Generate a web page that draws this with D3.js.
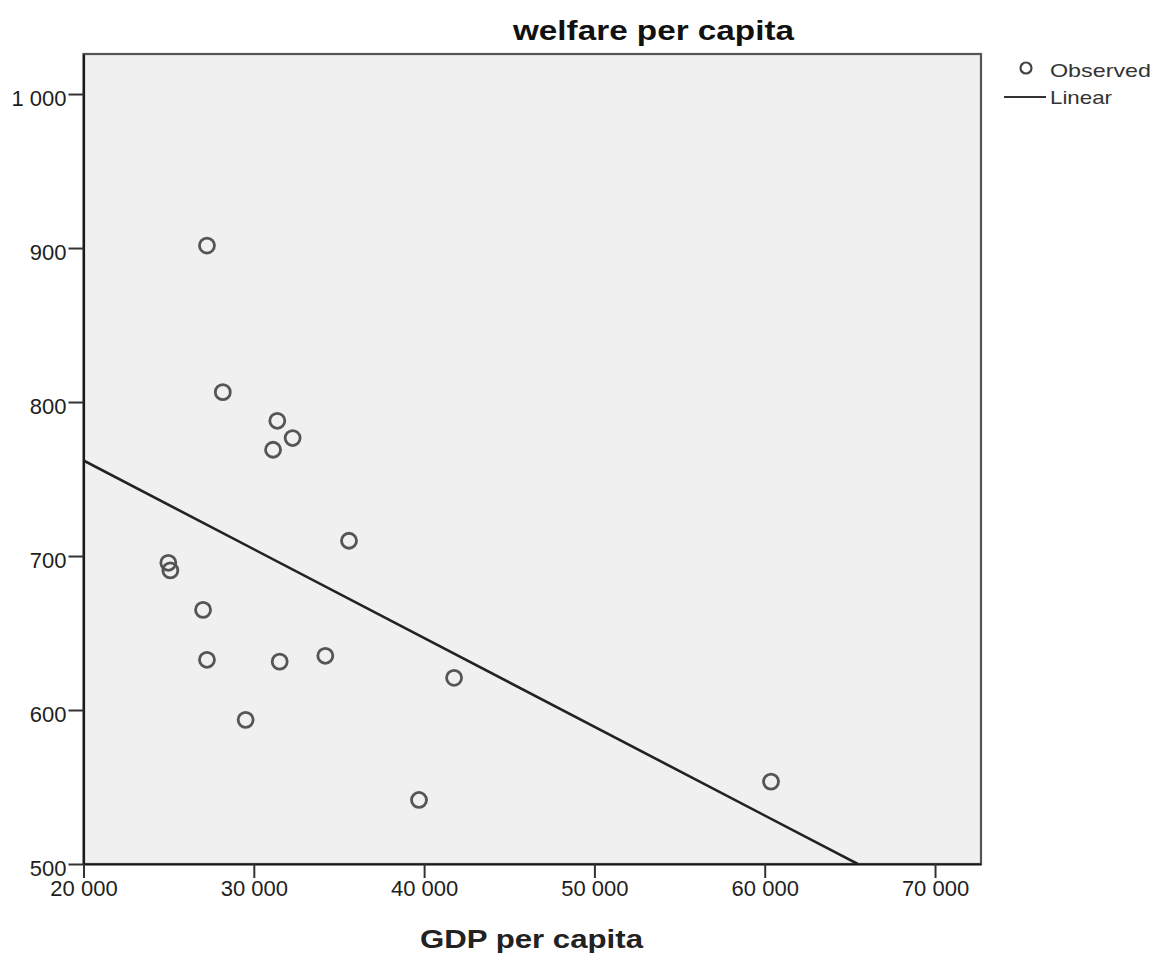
<!DOCTYPE html>
<html>
<head>
<meta charset="utf-8">
<script src="https://cdn.jsdelivr.net/npm/d3@7"></script>
<style>
	body { margin: 0; background: white; }
	text { font-family: "Liberation Sans", Arial, sans-serif; }
</style>
</head>
<body>
<div id="chart"></div>
<script>
// observed values (GDP per capita vs welfare per capita)
var gdp = [27250, 28180, 31380, 32280, 31130, 35590, 24980, 25100, 27020, 27250, 31520, 34200, 29520, 39700, 41760, 60370];
var welfare = [901.6, 806.4, 787.8, 776.6, 769.0, 709.9, 695.6, 690.7, 665.0, 632.6, 631.4, 635.2, 593.6, 541.6, 620.9, 553.5];

// linear fit: welfare = fitIntercept + fitSlope * gdp
var fitIntercept = 877.3;
var fitSlope = -0.0057635;

var xTicks = [20000, 30000, 40000, 50000, 60000, 70000];
var yTicks = [500, 600, 700, 800, 900, 1000];

var titleText = 'welfare per capita';
var xLabel = 'GDP per capita';
var legendLabels = ['Observed', 'Linear'];

var width = 1153, height = 954;
var plotLeft = 83.5, plotRight = 981, plotTop = 54, plotBottom = 864;

var locale = d3.formatLocale({decimal: '.', thousands: ' ', grouping: [3], currency: ['', '']});
var fmt = locale.format(',d');

var x = d3.scaleLinear().domain([20000, 72700]).range([plotLeft, plotRight]);
var y = d3.scaleLinear().domain([500, 1026]).range([plotBottom, plotTop]);

var svg = d3.select('#chart').append('svg')
		.attr('width', width)
		.attr('height', height);

// plot area
svg.append('rect')
	.attr('x', plotLeft)
	.attr('y', plotTop)
	.attr('width', plotRight - plotLeft)
	.attr('height', plotBottom - plotTop)
	.style('fill', '#f0f0f0')
	.style('stroke', '#555')
	.style('stroke-width', 2.2);

svg.append('defs').append('clipPath').attr('id', 'plotClip')
	.append('rect')
	.attr('x', plotLeft)
	.attr('y', plotTop)
	.attr('width', plotRight - plotLeft)
	.attr('height', plotBottom - plotTop);

// axes
var xAxis = svg.append('g')
	.attr('transform', 'translate(0,' + plotBottom + ')')
	.call(d3.axisBottom(x).tickValues(xTicks).tickFormat(fmt).tickSize(14).tickSizeOuter(0).tickPadding(2));

var yAxis = svg.append('g')
	.attr('transform', 'translate(' + plotLeft + ',0)')
	.call(d3.axisLeft(y).tickValues(yTicks).tickFormat(fmt).tickSize(15).tickSizeOuter(0).tickPadding(2));

[xAxis, yAxis].forEach(function(a) {
	a.select('.domain').style('stroke', '#1a1a1a').style('stroke-width', 2.2);
	a.selectAll('.tick line').style('stroke', '#333').style('stroke-width', 2);
	a.selectAll('.tick text')
		.style('font-size', '22px')
		.style('fill', '#1e1e1e');
});
yAxis.selectAll('.tick text').attr('dy', '0.5em');

// regression line, clipped to plot
var fitX0 = x.domain()[0];
var fitX1 = (y.domain()[0] - fitIntercept) / fitSlope;
svg.append('line')
	.attr('clip-path', 'url(#plotClip)')
	.attr('x1', x(fitX0))
	.attr('y1', y(fitIntercept + fitSlope * fitX0))
	.attr('x2', x(fitX1))
	.attr('y2', y(fitIntercept + fitSlope * fitX1))
	.style('stroke', '#222')
	.style('stroke-width', 2.6);

// observed points
svg.selectAll('.point').data(gdp).enter().append('circle')
	.attr('class', 'point')
	.attr('cx', function(d) {return x(d);})
	.attr('cy', function(d, i) {return y(welfare[i]);})
	.attr('r', 7.5)
	.style('fill', 'none')
	.style('stroke', '#555')
	.style('stroke-width', 2.8);

// title and axis label
svg.append('text')
	.attr('x', 513)
	.attr('y', 40)
	.attr('textLength', 281)
	.attr('lengthAdjust', 'spacingAndGlyphs')
	.style('font-size', '28px')
	.style('font-weight', 'bold')
	.style('fill', '#111')
	.text(titleText);

svg.append('text')
	.attr('x', 420)
	.attr('y', 948)
	.attr('textLength', 223)
	.attr('lengthAdjust', 'spacingAndGlyphs')
	.style('font-size', '26px')
	.style('font-weight', 'bold')
	.style('fill', '#222')
	.text(xLabel);

// legend
var legend = svg.append('g');
legend.append('circle')
	.attr('cx', 1026)
	.attr('cy', 68)
	.attr('r', 5.5)
	.style('fill', 'none')
	.style('stroke', '#444')
	.style('stroke-width', 2.2);
legend.append('line')
	.attr('x1', 1004)
	.attr('x2', 1046)
	.attr('y1', 97)
	.attr('y2', 97)
	.style('stroke', '#333')
	.style('stroke-width', 2);
legend.selectAll('.legendText').data(legendLabels).enter().append('text')
	.attr('class', 'legendText')
	.attr('x', 1050)
	.attr('y', function(d, i) {return 77 + i * 27;})
	.attr('textLength', function(d, i) {return i == 0 ? 101 : 62;})
	.attr('lengthAdjust', 'spacingAndGlyphs')
	.style('font-size', '19px')
	.style('fill', '#333')
	.text(function(d) {return d;});
</script>
</body>
</html>
